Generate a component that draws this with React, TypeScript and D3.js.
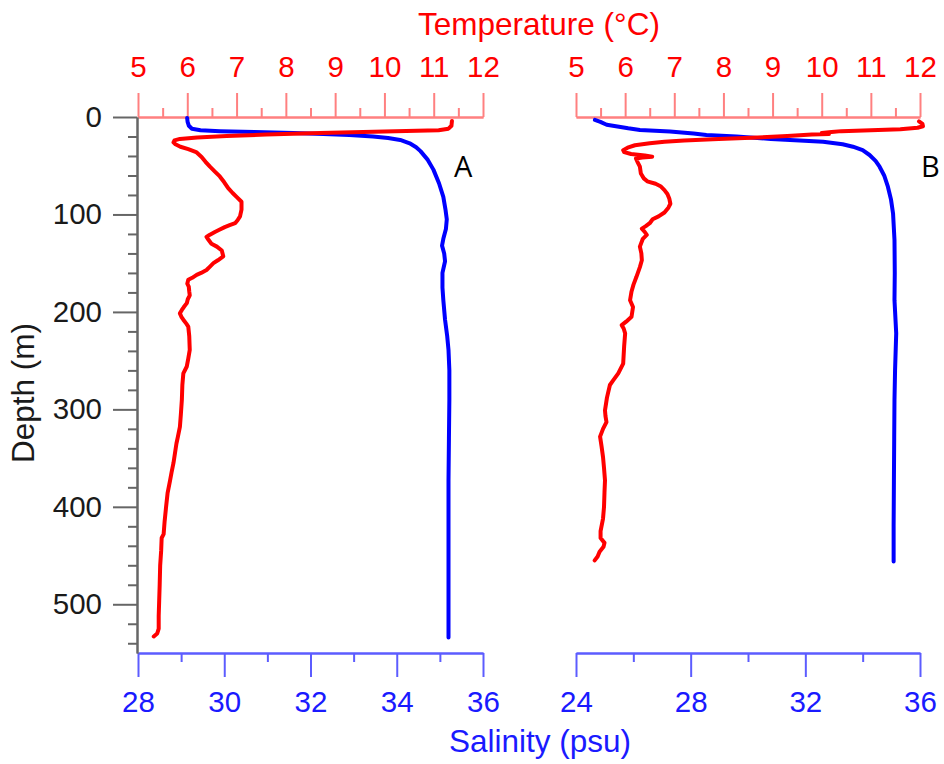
import React, { useEffect, useRef } from 'react';
import * as d3 from 'd3';

// [depth (m), value]
const tempA: [number, number][] = [
  [4, 11.37], [9, 11.36], [12, 11.3], [13.5, 11.1], [15, 10.0], [16.5, 8.7], [18, 7.6], [19.5, 6.8],
  [21, 6.2], [22.5, 5.85], [24, 5.74], [26, 5.72], [28, 5.76], [30.5, 5.86], [33, 6.02], [36, 6.18],
  [41, 6.29], [46, 6.37], [51, 6.46], [56, 6.56], [61, 6.66], [67, 6.75], [73, 6.83], [78, 6.92],
  [82, 7.0], [87, 7.1], [95, 7.1], [102, 7.07], [106, 7.02], [109, 6.97], [111, 6.86], [113, 6.76],
  [116, 6.64], [118, 6.56], [121, 6.45], [123, 6.39], [126, 6.43], [130, 6.49], [133, 6.6], [137, 6.7],
  [143, 6.73], [147, 6.62], [150, 6.53], [154, 6.45], [157, 6.39], [160, 6.28], [162, 6.19], [165, 6.1],
  [167, 6.02], [171, 6.0], [174, 6.03], [179, 6.04], [183, 6.05], [187, 6.01], [191, 5.99], [195, 5.93],
  [198, 5.89], [201.5, 5.85], [205, 5.88], [208, 5.92], [212, 5.98], [215, 6.02], [225, 6.04], [239, 6.05],
  [248, 6.02], [256, 5.99], [263, 5.92], [275, 5.9], [290, 5.89], [305, 5.87], [318, 5.85], [328, 5.81],
  [335, 5.78], [345, 5.75], [355, 5.72], [365, 5.68], [373, 5.65], [386, 5.6], [400, 5.57], [415, 5.54],
  [428, 5.52], [432, 5.48], [445, 5.47], [460, 5.45], [480, 5.44], [496, 5.43], [512, 5.42], [525, 5.42],
  [530, 5.39], [533, 5.32],
];

const salA: [number, number][] = [
  [1, 29.14], [5, 29.15], [9, 29.18], [12, 29.25], [13.5, 29.45], [14.5, 29.9], [15.5, 30.7], [16.5, 31.6],
  [17.5, 32.3], [18.5, 32.9], [20, 33.45], [21.5, 33.8], [23.5, 34.08], [27, 34.3], [31, 34.45], [35, 34.55],
  [44, 34.72], [54, 34.85], [68, 34.98], [82, 35.08], [95, 35.13], [105, 35.16], [115, 35.14], [125, 35.08],
  [132, 35.05], [140, 35.1], [148, 35.12], [160, 35.06], [175, 35.06], [188, 35.08], [208, 35.12], [225, 35.17],
  [239, 35.2], [260, 35.22], [290, 35.22], [330, 35.21], [373, 35.2], [420, 35.2], [470, 35.2], [534, 35.2],
];

const tempB: [number, number][] = [
  [4.5, 11.98], [7, 12.05], [9.5, 12.06], [11, 11.95], [12.5, 11.6], [13.5, 11.0], [14.5, 10.4], [15.5, 10.2],
  [16.5, 10.0], [17.5, 10.15], [18, 9.8], [19.5, 9.3], [21, 8.7], [22.5, 7.9], [24, 7.2], [25.5, 6.8],
  [27, 6.5], [29, 6.2], [31.5, 6.05], [34, 5.96], [36, 5.98], [38, 6.12], [39.5, 6.4], [40.7, 6.55],
  [41.5, 6.35], [42.5, 6.22], [46, 6.25], [51, 6.3], [58, 6.32], [63, 6.38], [66, 6.45], [68.5, 6.62],
  [71, 6.72], [75, 6.8], [79, 6.86], [84, 6.9], [89, 6.92], [93, 6.88], [98, 6.8], [102, 6.68],
  [105, 6.56], [109, 6.5], [112, 6.42], [114.5, 6.34], [118, 6.4], [121, 6.44], [125, 6.36], [133, 6.3],
  [140, 6.33], [147, 6.34], [154, 6.3], [164, 6.23], [172, 6.17], [179, 6.13], [188, 6.1], [195, 6.16],
  [205, 6.13], [210, 6.02], [213.6, 5.93], [217, 5.97], [222, 6.0], [235, 5.98], [253, 5.96], [263, 5.86],
  [270, 5.76], [275, 5.69], [288, 5.63], [301, 5.59], [307, 5.6], [313, 5.62], [320, 5.55], [328, 5.49],
  [338, 5.52], [349, 5.55], [360, 5.57], [373, 5.59], [385, 5.58], [400, 5.57], [412, 5.55], [425, 5.5],
  [432, 5.5], [437, 5.58], [441, 5.56], [446, 5.48], [451, 5.44], [455, 5.38],
];

const salB: [number, number][] = [
  [3, 24.66], [5, 24.85], [8, 25.07], [10, 25.5], [11.6, 25.82], [13.3, 26.23], [15, 27.28], [17, 28.1],
  [18.5, 28.55], [20, 29.6], [22.5, 30.8], [24, 31.8], [25.3, 32.62], [28, 33.3], [30.5, 33.66], [34, 34.0],
  [39, 34.24], [45, 34.45], [51, 34.59], [60, 34.75], [71.5, 34.88], [85, 34.99], [99, 35.06], [126, 35.11],
  [160, 35.12], [188, 35.11], [222, 35.17], [260, 35.13], [290, 35.11], [330, 35.1], [373, 35.09], [420, 35.08],
  [456, 35.08],
];

const tempTicks = [5, 6, 7, 8, 9, 10, 11, 12];
const tempMinor = [5.5, 6.5, 7.5, 8.5, 9.5, 10.5, 11.5];
const salTicksA = [28, 30, 32, 34, 36];
const salMinorA = [29, 31, 33, 35];
const salTicksB = [24, 28, 32, 36];
const salMinorB = [26, 30, 34];
const depthTicks = [0, 100, 200, 300, 400, 500];

const FONT = '"Liberation Sans", Arial, sans-serif';

const App: React.FC = () => {
  const ref = useRef<SVGSVGElement>(null);

  useEffect(() => {
    const svg = d3.select(ref.current);
    svg.selectAll('*').remove();

    const top = 117;
    const bottom = 653;
    const panels = [
      { left: 138, right: 483, temp: tempA, sal: salA, salDomain: [28, 36], ticks: salTicksA, minor: salMinorA, name: 'A', lx: 454 },
      { left: 576, right: 920, temp: tempB, sal: salB, salDomain: [24, 36], ticks: salTicksB, minor: salMinorB, name: 'B', lx: 921 },
    ];

    const y = d3.scaleLinear().domain([0, 550]).range([top, bottom]);

    const style = (g: any, color: string, textColor: string) => {
      g.select('.domain').attr('stroke', color).attr('stroke-width', 2);
      g.selectAll('line').attr('stroke', color).attr('stroke-width', 2);
      g.selectAll('text').attr('fill', textColor).style('font-family', FONT).style('font-size', '29.5px');
    };

    panels.forEach((p) => {
      const xT = d3.scaleLinear().domain([5, 12]).range([p.left, p.right]);
      const xS = d3.scaleLinear().domain(p.salDomain).range([p.left, p.right]);

      // temperature axis on top
      const gTop = svg.append('g').attr('transform', `translate(0,${top})`);
      gTop.call(d3.axisTop(xT).tickValues(tempTicks).tickSize(24).tickSizeOuter(0).tickPadding(16).tickFormat(d3.format('d')));
      style(gTop, '#ff8080', '#ff0000');
      const gTopMinor = svg.append('g').attr('transform', `translate(0,${top})`);
      gTopMinor.call(d3.axisTop(xT).tickValues(tempMinor).tickSize(9).tickSizeOuter(0).tickFormat(() => ''));
      style(gTopMinor, '#ff8080', '#ff0000');

      // salinity axis at the bottom
      const gBot = svg.append('g').attr('transform', `translate(0,${bottom})`);
      gBot.call(d3.axisBottom(xS).tickValues(p.ticks).tickSize(24).tickSizeOuter(0).tickPadding(14).tickFormat(d3.format('d')));
      style(gBot, '#5c5cff', '#1a1aff');
      const gBotMinor = svg.append('g').attr('transform', `translate(0,${bottom})`);
      gBotMinor.call(d3.axisBottom(xS).tickValues(p.minor).tickSize(9).tickSizeOuter(0).tickFormat(() => ''));
      style(gBotMinor, '#5c5cff', '#1a1aff');

      // profiles
      const lineT = d3.line<[number, number]>().x((d) => xT(d[1])).y((d) => y(d[0]));
      const lineS = d3.line<[number, number]>().x((d) => xS(d[1])).y((d) => y(d[0]));

      svg.append('path').datum(p.sal).attr('d', lineS).attr('fill', 'none')
        .attr('stroke', '#0000ff').attr('stroke-width', 4).attr('stroke-linejoin', 'round').attr('stroke-linecap', 'round');
      svg.append('path').datum(p.temp).attr('d', lineT).attr('fill', 'none')
        .attr('stroke', '#ff0000').attr('stroke-width', 4).attr('stroke-linejoin', 'round').attr('stroke-linecap', 'round');

      svg.append('text').attr('x', p.lx).attr('y', 177).text(p.name)
        .style('font-family', '"Open Sans", Arial, sans-serif').style('font-size', '29px').attr('fill', '#000');
    });

    // depth axis (left panel only)
    const gLeft = svg.append('g').attr('transform', 'translate(137,0)');
    gLeft.call(d3.axisLeft(y).tickValues(depthTicks).tickSize(24).tickSizeOuter(0).tickPadding(11).tickFormat(d3.format('d')));
    style(gLeft, '#666666', '#1a1a1a');
    const gLeftMinor = svg.append('g').attr('transform', 'translate(137,0)');
    gLeftMinor.call(d3.axisLeft(y).tickValues(d3.range(20, 541, 20).filter((v) => v % 100 !== 0)).tickSize(9).tickSizeOuter(0).tickFormat(() => ''));
    style(gLeftMinor, '#666666', '#1a1a1a');

    // titles
    svg.append('text').attr('x', 539).attr('y', 35).attr('text-anchor', 'middle')
      .text('Temperature (°C)').attr('fill', '#ff0000').style('font-family', FONT).style('font-size', '31.5px');
    svg.append('text').attr('x', 540).attr('y', 752).attr('text-anchor', 'middle')
      .text('Salinity (psu)').attr('fill', '#1a1aff').style('font-family', FONT).style('font-size', '31.5px');
    svg.append('text').attr('transform', 'translate(34,393) rotate(-90)').attr('text-anchor', 'middle')
      .text('Depth (m)').attr('fill', '#1a1a1a').style('font-family', FONT).style('font-size', '31.5px');
  }, []);

  return (
    <svg ref={ref} width={944} height={764} style={{ position: 'absolute', left: 0, top: 0, background: '#fff' }} />
  );
};

export default App;
